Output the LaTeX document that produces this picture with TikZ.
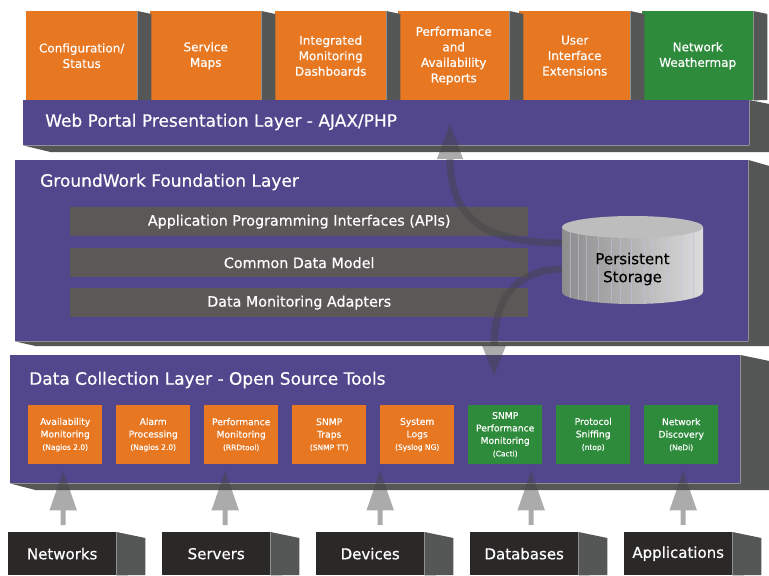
\documentclass[tikz,border=0pt]{standalone}
\usepackage{fontspec}
\setmainfont{DejaVu Sans}[FakeBold=0.5]
\usetikzlibrary{arrows.meta}

\definecolor{gworange}{HTML}{E87722}
\definecolor{gwgreen}{HTML}{2E8B3B}
\definecolor{gwpurple}{HTML}{52468C}
\definecolor{gwside}{HTML}{555656}
\definecolor{gwbar}{HTML}{5B5857}
\definecolor{gwblack}{HTML}{2B2828}
\definecolor{gwflow}{HTML}{444444}

\tikzset{
  side/.style={fill=gwside},
  toolbox/.style={anchor=north west, inner sep=0pt, minimum width=111pt, minimum height=89pt,
    text=white, align=center, font=\fontsize{12}{15.5}\selectfont},
  layer/.style={anchor=north west, fill=gwpurple, inner sep=0pt},
  layertitle/.style={anchor=west, inner sep=0pt, text=white, font=\fontsize{17}{20}\selectfont},
  apibar/.style={anchor=north west, fill=gwbar, inner sep=0pt, minimum width=458pt,
    minimum height=29pt, text=white, font=\fontsize{14.3}{16}\selectfont},
  srcbox/.style={anchor=north west, inner sep=0pt, minimum width=74pt, minimum height=59pt,
    text=white, align=center, font=\fontsize{9.2}{12.5}\selectfont},
  source/.style={anchor=north west, fill=gwblack, inner sep=0pt, minimum width=108pt,
    minimum height=43pt, text=white, font=\fontsize{15}{18}\selectfont},
  flow/.style={draw=gwflow, line width=5pt, -{Triangle[length=40pt,width=26pt]}},
  seethrough/.style={transparency group, opacity=.45},
}
\newcommand{\toolname}[1]{{\fontsize{7.5}{10}\selectfont #1}}

\begin{document}
\begin{tikzpicture}[x=1pt,y=-1pt]
\useasboundingbox (0,0) rectangle (769,576);

% presentation tools
\node[toolbox, fill=gworange] (cfg) at (26,11) {Configuration/\\Status};
\node[toolbox, fill=gworange] (maps) at (150,11) {Service\\Maps};
\node[toolbox, fill=gworange] (dash) at (275,11) {Integrated\\Monitoring\\Dashboards};
\node[toolbox, fill=gworange] (reports) at (398,11) {Performance\\and\\Availability\\Reports};
\node[toolbox, fill=gworange] (uiext) at (519,11) {User\\Interface\\Extensions};
\node[toolbox, fill=gwgreen] (wmap) at (642,11) {Network\\Weathermap};
\foreach \b in {cfg,maps,dash,reports,uiext,wmap}
  \fill[side] (\b.north east) -- ++(14,3) -- ++(0,86) -- (\b.south east) -- cycle;

% web portal
\node[layer, minimum width=726pt, minimum height=45pt] (web) at (23,100) {};
\fill[side] (web.north east) -- ++(20,4) -- ++(0,48) -- ++(-719,0)
  -- (web.south west) -- (web.south east) -- cycle;
\node[layertitle] (webtitle) at (45,122) {Web Portal Presentation Layer - AJAX/PHP};

% foundation
\node[layer, minimum width=733pt, minimum height=181pt] (fnd) at (15,160) {};
\fill[side] (fnd.north east) -- ++(21,6) -- ++(0,180) -- ++(-734,0)
  -- (fnd.south west) -- (fnd.south east) -- cycle;
\node[layertitle] (fndtitle) at (40,182) {GroundWork Foundation Layer};
\node[apibar] (api) at (70,207) {Application Programming Interfaces (APIs)};
\node[apibar] (cdm) at (70,248) {Common Data Model};
\node[apibar] (dma) at (70,288) {Data Monitoring Adapters};

% storage
\shade[left color=gray!90, right color=gray!28] (562,227) -- (562,292)
  arc[start angle=180, end angle=360, x radius=70.5pt, y radius=12pt] -- (703,227) -- cycle;
\foreach \x in {570,578,586,598,611,620,631,644,652,667,681,693} {
  \pgfmathsetmacro\yb{292+12*sqrt(1-((\x-632.5)/70.5)^2)}
  \draw[gwpurple!35, line width=.4pt, opacity=.6] (\x,230) -- (\x,\yb);
}
\fill[gray!52] (632.5,227) ellipse[x radius=70.5pt, y radius=11pt];
\node[font=\fontsize{15}{18}\selectfont, align=center, minimum width=141pt,
  minimum height=66pt, inner sep=0pt] (store) at (632.5,269) {Persistent\\Storage};

% data collection
\node[layer, minimum width=730pt, minimum height=128pt] (dcl) at (10,355) {};
\fill[side] (dcl.north east) -- ++(29,6) -- ++(0,129) -- ++(-734,0)
  -- (dcl.south west) -- (dcl.south east) -- cycle;
\node[layertitle] (dcltitle) at (29,380) {Data Collection Layer - Open Source Tools};
\node[srcbox, fill=gworange] (nagios) at (28,405) {Availability\\Monitoring\\\toolname{(Nagios 2.0)}};
\node[srcbox, fill=gworange] (alarm) at (116,405) {Alarm\\Processing\\\toolname{(Nagios 2.0)}};
\node[srcbox, fill=gworange] (rrd) at (204,405) {Performance\\Monitoring\\\toolname{(RRDtool)}};
\node[srcbox, fill=gworange] (traps) at (292,405) {SNMP\\Traps\\\toolname{(SNMP TT)}};
\node[srcbox, fill=gworange] (syslog) at (380,405) {System\\Logs\\\toolname{(Syslog NG)}};
\node[srcbox, fill=gwgreen] (cacti) at (468,405) {SNMP\\Performance\\Monitoring\\\toolname{(Cacti)}};
\node[srcbox, fill=gwgreen] (ntop) at (556,405) {Protocol\\Sniffing\\\toolname{(ntop)}};
\node[srcbox, fill=gwgreen] (nedi) at (644,405) {Network\\Discovery\\\toolname{(NeDi)}};

% storage flows
\coordinate (webin) at (450,123);
\coordinate (dclin) at (494,377);
\begin{scope}[seethrough]
  \draw[flow, line width=7pt, -{Triangle[length=36pt,width=24pt]}]
    ([yshift=26pt]store.west) .. controls (480,243) and (450,215) .. (webin);
\end{scope}
\begin{scope}[seethrough]
  \draw[flow, line width=7pt, -{Triangle[length=32pt,width=22pt]}]
    (store.west) .. controls (515,270) and (494,300) .. (dclin);
\end{scope}

% sources
\node[source] (net) at (8,532) {Networks};
\node[source] (srv) at (162,532) {Servers};
\node[source] (dev) at (316,532) {Devices};
\node[source] (db) at (470,532) {Databases};
\node[source] (app) at (624,532) {Applications};
\foreach \s/\dx in {net/1,srv/9,dev/10,db/7,app/5} {
  \fill[side] (\s.north east) -- ++(29,6) -- ++(0,37) -- (\s.south east) -- cycle;
  \begin{scope}[seethrough]
    \draw[flow] ([xshift=\dx pt,yshift=7pt]\s.north) -- ([xshift=\dx pt,yshift=13pt]\s.north |- dcl.south);
  \end{scope}
}
\end{tikzpicture}
\end{document}
